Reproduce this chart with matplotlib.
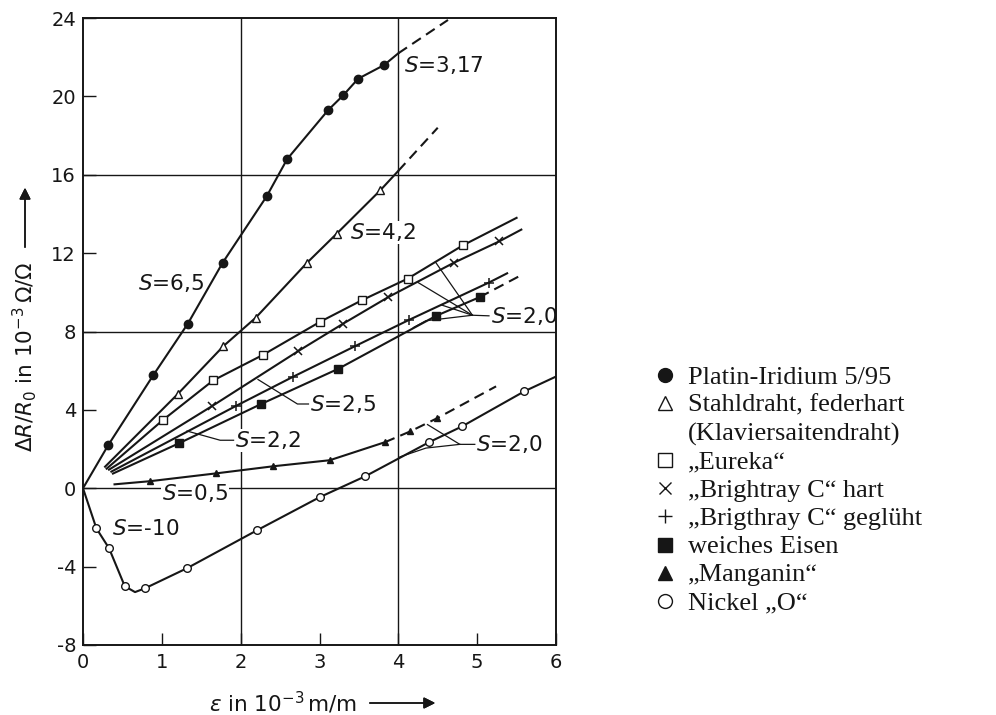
import matplotlib
matplotlib.use("Agg")
import matplotlib.pyplot as plt
from matplotlib.lines import Line2D

plt.rcParams["font.family"] = ["DejaVu Sans"]
plt.rcParams["axes.unicode_minus"] = False
plt.rcParams["mathtext.fontset"] = "dejavusans"

INK = "#161616"

# --- data (x: strain in 1e-3 m/m, y: dR/R0 in 1e-3) ---
platin_x = [0.0, 0.32, 0.89, 1.33, 1.77, 2.33, 2.59, 3.11, 3.30, 3.49, 3.82, 4.0]
platin_y = [0.0, 2.2, 5.76, 8.4, 11.5, 14.9, 16.8, 19.3, 20.05, 20.9, 21.6, 22.2]
platin_dash_x = [4.0, 4.63]
platin_dash_y = [22.2, 23.9]

stahl_x = [0.28, 1.20, 1.78, 2.19, 2.84, 3.22, 3.77, 4.0]
stahl_y = [1.1, 4.8, 7.25, 8.7, 11.5, 13.0, 15.2, 16.2]
stahl_dash_x = [4.0, 4.5]
stahl_dash_y = [16.2, 18.4]

eureka_x = [0.30, 1.01, 1.65, 2.28, 3.01, 3.54, 4.12, 4.82, 5.5]
eureka_y = [1.0, 3.47, 5.5, 6.8, 8.5, 9.6, 10.7, 12.4, 13.8]

hart_x = [0.33, 1.64, 2.73, 3.30, 3.87, 4.70, 5.28, 5.56]
hart_y = [0.95, 4.2, 7.0, 8.4, 9.75, 11.5, 12.6, 13.2]

gegl_x = [0.36, 1.94, 2.67, 3.45, 4.14, 5.15, 5.38]
gegl_y = [0.85, 4.2, 5.7, 7.25, 8.6, 10.5, 10.97]

eisen_x = [0.38, 1.22, 2.26, 3.24, 4.48, 5.03]
eisen_y = [0.75, 2.3, 4.3, 6.1, 8.8, 9.75]
eisen_dash_x = [5.03, 5.57]
eisen_dash_y = [9.75, 10.9]

mangan_x = [0.40, 0.85, 1.69, 2.41, 3.13, 3.83]
mangan_y = [0.2, 0.36, 0.76, 1.12, 1.43, 2.35]
mangan_dash_x = [3.83, 4.15, 4.49, 5.24]
mangan_dash_y = [2.35, 2.9, 3.57, 5.2]

nickel_x = [0.0, 0.17, 0.33, 0.53, 0.66, 0.79, 1.32, 2.21, 3.0, 3.58, 4.39, 4.81, 5.6, 6.0]
nickel_y = [0.0, -2.05, -3.06, -5.0, -5.3, -5.1, -4.08, -2.14, -0.46, 0.61, 2.35, 3.16, 4.95, 5.7]

# label text, anchor (x, y) in data units
s_labels = [
    ("3,17", 4.07, 21.6),
    ("4,2", 3.39, 13.06),
    ("6,5", 0.70, 10.5),
    ("2,0", 5.17, 8.8),
    ("2,5", 2.88, 4.3),
    ("2,2", 1.93, 2.45),
    ("0,5", 1.00, -0.25),
    ("-10", 0.37, -2.1),
    ("2,0", 4.99, 2.24),
]

# leader lines (polylines in data units)
leaders = [
    ([5.15, 4.94, 4.47], [8.8, 8.83, 11.55]),
    ([4.94, 4.25], [8.83, 10.5]),
    ([4.94, 4.55], [8.83, 9.35]),
    ([4.94, 4.35, 4.19], [8.83, 8.55, 8.2]),
    ([2.86, 2.72, 2.22], [4.3, 4.3, 5.55]),
    ([1.91, 1.74, 1.32], [2.45, 2.45, 2.92]),
    ([4.97, 4.78, 4.37], [2.24, 2.24, 3.25]),
    ([4.78, 4.35, 4.02], [2.24, 2.05, 1.6]),
]

legend_names = [
    "Platin-Iridium 5/95",
    "Stahldraht, federhart",
    "(Klaviersaitendraht)",
    "\u201eEureka\u201c",
    "\u201eBrightray C\u201c hart",
    "\u201eBrigthray C\u201c gegl\u00fcht",
    "weiches Eisen",
    "\u201eManganin\u201c",
    "Nickel \u201eO\u201c",
]

fig = plt.figure(figsize=(9.96, 7.15), dpi=100)
ax = fig.add_axes([83 / 996, 1 - 645 / 715, 473 / 996, 627 / 715])

line_kw = dict(color=INK, lw=1.5, zorder=4)
open_kw = dict(mfc="white", mec=INK, mew=1.0)
dash = (0, (5, 3))

ax.plot(platin_x, platin_y, marker="o", ms=6, mfc=INK, mec=INK,
        markevery=list(range(1, len(platin_x) - 1)), **line_kw)
ax.plot(platin_dash_x, platin_dash_y, ls=dash, **line_kw)

ax.plot(stahl_x, stahl_y, marker="^", ms=5.5, markevery=list(range(1, len(stahl_x) - 1)),
        **open_kw, **line_kw)
ax.plot(stahl_dash_x, stahl_dash_y, ls=dash, **line_kw)

ax.plot(eureka_x, eureka_y, marker="s", ms=5.5, markevery=list(range(1, len(eureka_x) - 1)),
        **open_kw, **line_kw)
ax.plot(hart_x, hart_y, marker="x", ms=5.5, mec=INK, mew=1.1,
        markevery=list(range(1, len(hart_x) - 1)), **line_kw)
ax.plot(gegl_x, gegl_y, marker="+", ms=7, mec=INK, mew=1.1,
        markevery=list(range(1, len(gegl_x) - 1)), **line_kw)
ax.plot(eisen_x, eisen_y, marker="s", ms=5.5, mfc=INK, mec=INK,
        markevery=list(range(1, len(eisen_x))), **line_kw)
ax.plot(eisen_dash_x, eisen_dash_y, ls=dash, **line_kw)

ax.plot(mangan_x, mangan_y, marker="^", ms=5, mfc=INK, mec=INK,
        markevery=list(range(1, len(mangan_x))), **line_kw)
ax.plot(mangan_dash_x, mangan_dash_y, ls=dash, marker="^", ms=5, mfc=INK,
        mec=INK, markevery=[1, 2], **line_kw)

ax.plot(nickel_x, nickel_y, marker="o", ms=5.5,
        markevery=[i for i in range(1, len(nickel_x) - 1) if i != 4],
        **open_kw, **line_kw)

for lx, ly in leaders:
    ax.plot(lx, ly, color=INK, lw=0.9, zorder=3)

for val, tx, ty in s_labels:
    ax.text(tx, ty, "$S$=" + val, fontsize=15.5, ha="left", va="center", color=INK,
            zorder=2.5, bbox=dict(facecolor="white", edgecolor="none", pad=0.5))

# frame, grid and ticks
for y0 in [0, 8, 16]:
    ax.axhline(y0, color=INK, lw=1.0, zorder=1)
for x0 in [2, 4]:
    ax.axvline(x0, color=INK, lw=1.0, zorder=1)

ax.set_xlim(0, 6)
ax.set_ylim(-8, 24)
ax.set_xticks(range(0, 7))
ax.set_yticks(range(-8, 25, 4))
ax.tick_params(direction="in", length=9, width=1.0, labelsize=14, color=INK,
               labelcolor=INK, top=False, right=False)
ax.tick_params(axis="y", pad=5)
ax.tick_params(axis="x", pad=6)
for sp in ax.spines.values():
    sp.set_linewidth(1.4)
    sp.set_color(INK)

# axis titles with arrows
fig.text(25 / 996, 1 - 357 / 715, r"$\Delta R/R_0$ in $10^{-3}\,\Omega/\Omega$",
         rotation=90, ha="center", va="center", fontsize=15.5, color=INK)
fig.text(283 / 996, 1 - 703 / 715, r"$\varepsilon$ in $10^{-3}\,$m/m",
         ha="center", va="center", fontsize=15.5, color=INK)
arrow = dict(arrowstyle="-|>", color=INK, lw=1.1, mutation_scale=17)
fig.add_artist(plt.annotate("", xy=(25 / 996, 1 - 185 / 715), xytext=(25 / 996, 1 - 250 / 715),
                            xycoords="figure fraction", arrowprops=arrow))
fig.add_artist(plt.annotate("", xy=(438 / 996, 1 - 703 / 715), xytext=(367 / 996, 1 - 703 / 715),
                            xycoords="figure fraction", arrowprops=arrow))

# legend drawn at the right, one row per series
legend_marks = [
    dict(marker="o", ms=10, mfc=INK, mec=INK),
    dict(marker="^", ms=10, mfc="white", mec=INK, mew=1.0),
    None,
    dict(marker="s", ms=10, mfc="white", mec=INK, mew=1.0),
    dict(marker="x", ms=9, mec=INK, mew=1.0),
    dict(marker="+", ms=10, mec=INK, mew=1.0),
    dict(marker="s", ms=10, mfc=INK, mec=INK),
    dict(marker="^", ms=10, mfc=INK, mec=INK),
    dict(marker="o", ms=10, mfc="white", mec=INK, mew=1.0),
]
row0, step = 375, 28.25
for i, (name, mk) in enumerate(zip(legend_names, legend_marks)):
    yy = 1 - (row0 + i * step) / 715
    if mk is not None:
        fig.add_artist(Line2D([665 / 996], [yy], transform=fig.transFigure,
                              ls="none", **mk))
    fig.text(688 / 996, yy, name, ha="left", va="center_baseline", fontsize=19,
             family="Liberation Serif", color=INK)

fig.savefig("out.png", dpi=100)
